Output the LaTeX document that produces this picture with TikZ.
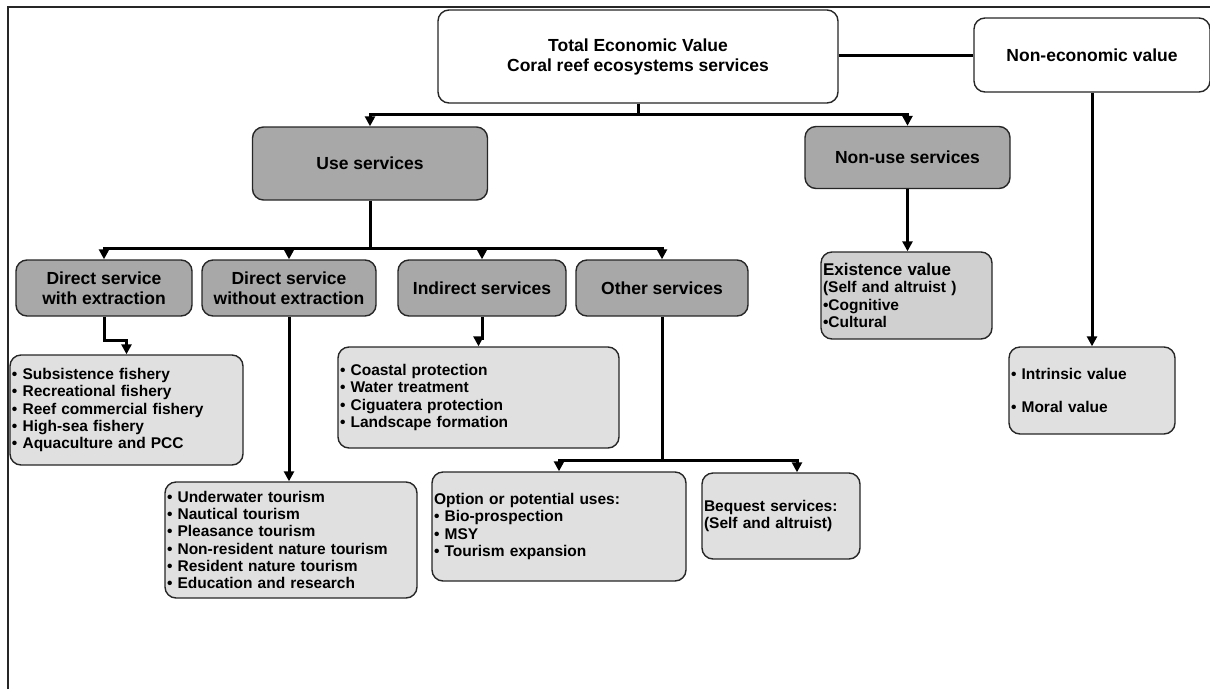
\documentclass[tikz,border=0pt]{standalone}
\usepackage{fontspec}
\setmainfont{Liberation Sans}
\usetikzlibrary{arrows.meta, positioning, calc}
\definecolor{catgray}{HTML}{A8A8A8}
\definecolor{existgray}{HTML}{D0D0D0}
\definecolor{listgray}{HTML}{E0E0E0}
\definecolor{boxborder}{HTML}{262626}

\begin{document}
\begin{tikzpicture}[x=1pt, y=-1pt,
      box/.style={draw=boxborder, line width=1.4pt, rounded corners=11pt,
        inner sep=0pt},
      topbox/.style={box, fill=white, align=center,
        font=\bfseries\fontsize{17.5}{20}\selectfont},
      catbox/.style={box, fill=catgray, align=center,
        font=\bfseries\fontsize{17.5}{20}\selectfont},
      subbox/.style={box, fill=catgray, align=center,
        font=\bfseries\fontsize{17.5}{20}\selectfont},
      listbox/.style={box, fill=listgray, align=left, inner xsep=2pt,
        font=\bfseries\fontsize{15.5}{17.3}\selectfont},
      link/.style={line width=3pt, -{Triangle[length=10pt, width=10pt]}},
      >=Latex
    ]
      \useasboundingbox (0,0) rectangle (1210,689);
      \draw[line width=1.3pt, black!85] (8,689) -- (8,7) -- (1210,7);

      \node[topbox, minimum width=400pt, minimum height=93pt] (total)
        at (638,56.5) {Total Economic Value\\Coral reef ecosystems services};
      \node[topbox, minimum width=236pt, minimum height=74pt] (noneco)
        at (1092,55) {Non-economic value};
      \node[catbox, minimum width=235pt, minimum height=73pt] (use)
        at (370,163.5) {Use services};
      \node[catbox, minimum width=205pt, minimum height=62pt] (nonuse)
        at (907.5,157.5) {Non-use services};

      \node[subbox, minimum width=176pt, minimum height=56pt] (dwith)
        at (104,288) {Direct service\\with extraction};
      \node[subbox, minimum width=174pt, minimum height=56pt] (dwithout)
        at (289,288) {Direct service\\without extraction};
      \node[subbox, minimum width=168pt, minimum height=56pt] (indirect)
        at (482,288) {Indirect services};
      \node[subbox, minimum width=172pt, minimum height=56pt] (other)
        at (662,288) {Other services};

      \node[listbox, text width=229pt, minimum height=110pt] (fishlist)
        at (126.5,410) {• Subsistence fishery\\• Recreational fishery\\%
        • Reef commercial fishery\\• High-sea fishery\\• Aquaculture and PCC};
      \node[listbox, text width=248pt, minimum height=116pt] (tourlist)
        at (291,540) {• Underwater tourism\\• Nautical tourism\\%
        • Pleasance tourism\\• Non-resident nature tourism\\%
        • Resident nature tourism\\• Education and research};
      \node[listbox, text width=277pt, minimum height=101pt] (coastlist)
        at (478.5,397.5) {• Coastal protection\\• Water treatment\\%
        • Ciguatera protection\\• Landscape formation};
      \node[listbox, text width=250pt, minimum height=109pt] (optionlist)
        at (559,526.5) {Option or potential uses:\\• Bio-prospection\\%
        • MSY\\• Tourism expansion};
      \node[listbox, text width=154pt, minimum height=86pt] (bequestlist)
        at (781,516) {Bequest services:\\(Self and altruist)};
      \node[listbox, fill=existgray, text width=167pt, minimum height=87pt]
        (existlist) at (906.5,295.5)
        {{\fontsize{17}{18}\selectfont Existence value}\\%
        (Self and altruist )\\•Cognitive\\•Cultural};
      \node[listbox, text width=162pt, minimum height=87pt] (intrinsiclist)
        at (1092,390.5) {• Intrinsic value\\[15pt]• Moral value\\[4pt]};

      \coordinate (topsplit) at (638,114);
      \coordinate (usesplit) at (370,248);
      \coordinate (othersplit) at (662,460);

      \draw[line width=3pt] (total.east |- noneco.west) -- (noneco.west);
      \draw[link] (total.south) -- (topsplit) -| (use.north);
      \draw[link] (topsplit) -| (nonuse.north);
      \draw[link] (noneco.south) -- (intrinsiclist.north);
      \draw[link] (nonuse.south) -- (nonuse.south |- existlist.north);

      \draw[link] (use.south) -- (usesplit) -| (dwith.north);
      \draw[link] (usesplit) -| (dwithout.north);
      \draw[link] (usesplit) -| (indirect.north);
      \draw[link] (usesplit) -| (other.north);

      \draw[link] (dwith.south) -- ++(0,24) -| (fishlist.north);
      \draw[link] (dwithout.south) -- (dwithout.south |- tourlist.north);
      \draw[link] (indirect.south) -- ++(0,22) -| (coastlist.north);
      \draw[link] (other.south) -- (othersplit) -| (optionlist.north);
      \draw[link] (othersplit) -| ($(bequestlist.north)+(16,0)$);
    \end{tikzpicture}
\end{document}
